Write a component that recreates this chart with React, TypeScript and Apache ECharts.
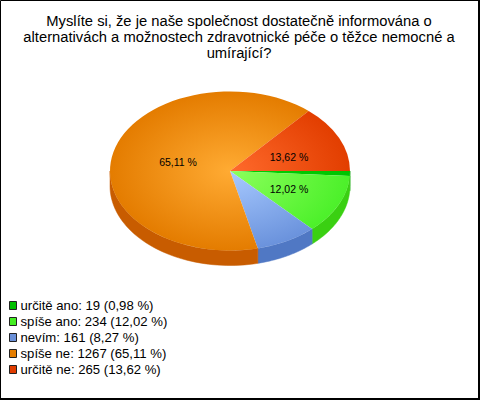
import React, { useEffect, useRef } from "react";
import * as echarts from "echarts";

const categories = ["určitě ano", "spíše ano", "nevím", "spíše ne", "určitě ne"];
const counts = [19, 234, 161, 1267, 265];
const percents = ["0,98", "12,02", "8,27", "65,11", "13,62"];
const shownLabels = ["", "12,02 %", "", "65,11 %", "13,62 %"];
const legendColors = ["#00c000", "#44ee22", "#6a90d8", "#e67e00", "#e03c00"];
const innerColors = ["#00d000", "#8cff5c", "#a8caff", "#ffab33", "#ff6a2c"];
const outerColors = ["#00c400", "#4cf02a", "#6a92dc", "#e47c00", "#e23e00"];
const sideColors = ["#009a00", "#3ad012", "#5078c4", "#c85c00", "#b83000"];

const titleText =
  "Myslíte si, že je naše společnost dostatečně informována o\nalternativách a možnostech zdravotnické péče o těžce nemocné a\numírající?";

const CX = 230;
const CY = 171;
const RX = 120;
const RY = 79.5;
const DEPTH = 15;
const FONT = "'Liberation Sans', Arial, sans-serif";

const total = counts.reduce((a, b) => a + b, 0);
const toAngle = (v: number) => (v / total) * Math.PI * 2;

function startOf(index: number) {
  let s = 0;
  for (let i = 0; i < index; i++) s += toAngle(counts[i]);
  return s;
}

function wallPoints(a: number, b: number) {
  const from = Math.max(a, 0);
  const to = Math.min(b, Math.PI);
  if (to <= from) return null;
  const steps = 48;
  const top: number[][] = [];
  const bottom: number[][] = [];
  for (let i = 0; i <= steps; i++) {
    const t = from + ((to - from) * i) / steps;
    const x = CX + RX * Math.cos(t);
    const y = CY + RY * Math.sin(t);
    top.push([x, y]);
    bottom.unshift([x, y + DEPTH]);
  }
  return top.concat(bottom);
}

function makeRender(index: number) {
  return (_params: any, api: any) => {
    const a = startOf(index);
    const b = a + toAngle(api.value(0));
    const children: any[] = [];
    const wall = wallPoints(a, b);
    if (wall) {
      children.push({
        type: "polygon",
        shape: { points: wall },
        style: { fill: sideColors[index], stroke: sideColors[index], lineWidth: 0.5 },
      });
    }
    children.push({
      type: "group",
      x: CX,
      y: CY,
      scaleY: RY / RX,
      children: [
        {
          type: "sector",
          shape: { cx: 0, cy: 0, r0: 0, r: RX, startAngle: a, endAngle: b, clockwise: true },
          style: {
            fill: new echarts.graphic.RadialGradient(
              0,
              0,
              RX,
              [
                { offset: 0, color: innerColors[index] },
                { offset: 1, color: outerColors[index] },
              ],
              true
            ),
          },
        },
      ],
    });
    return { type: "group", children };
  };
}

const legendNames = categories.map((c, i) => `${c}: ${counts[i]} (${percents[i]} %)`);

export default function App() {
  const ref = useRef<HTMLDivElement>(null);
  useEffect(() => {
    document.body.style.margin = "0";
    const chart = echarts.init(ref.current!, undefined, { renderer: "svg" });
    const label = (text: string, x: number, y: number) => ({
      type: "text",
      x,
      y,
      z: 20,
      style: { text, font: `10.5px ${FONT}`, fill: "#000", align: "center", verticalAlign: "middle" },
    });
    chart.setOption({
      animation: false,
      backgroundColor: "#ffffff",
      title: {
        text: titleText,
        left: 234,
        top: 8,
        textAlign: "center",
        textStyle: { fontFamily: FONT, fontSize: 14.75, fontWeight: "normal", color: "#000", lineHeight: 16 },
      },
      legend: {
        orient: "vertical",
        left: 9,
        top: 298,
        itemWidth: 7,
        itemHeight: 8,
        itemGap: 1,
        padding: 0,
        icon: "rect",
        selectedMode: false,
        textStyle: { fontFamily: FONT, fontSize: 13.15, color: "#000", lineHeight: 15, padding: [0, 0, 0, -1] },
        data: legendNames.map((name, i) => ({
          name,
          itemStyle: { color: legendColors[i], borderColor: "#222", borderWidth: 1 },
        })),
      },
      series: counts.map((v, i) => ({
        type: "custom",
        name: legendNames[i],
        coordinateSystem: "none",
        data: [[v]],
        silent: true,
        itemStyle: { color: legendColors[i] },
        renderItem: makeRender(i),
      })),
      graphic: [
        label(shownLabels[3], 178, 162),
        label(shownLabels[4], 289, 157),
        label(shownLabels[1], 289, 189),
        {
          type: "polyline",
          z: 20,
          shape: { points: [[0.5, 400], [0.5, 0.5], [480, 0.5]] },
          style: { fill: "none", stroke: "#000", lineWidth: 1 },
          silent: true,
        },
        {
          type: "polyline",
          z: 20,
          shape: { points: [[479, 0], [479, 399], [0, 399]] },
          style: { fill: "none", stroke: "#000", lineWidth: 2 },
          silent: true,
        },
      ],
    });
    return () => chart.dispose();
  }, []);
  return <div ref={ref} style={{ width: 480, height: 400 }} />;
}
